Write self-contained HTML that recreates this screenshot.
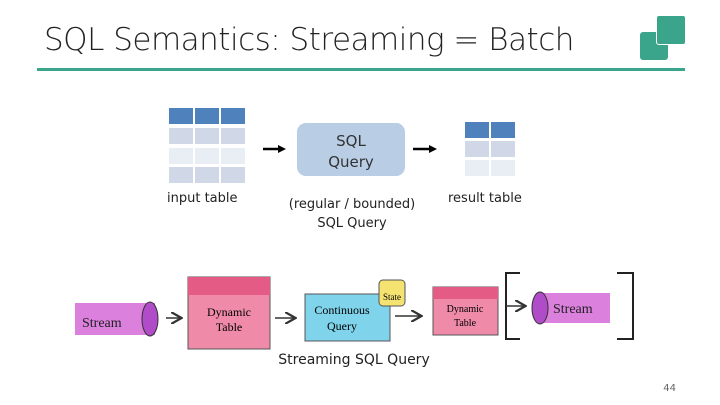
<!DOCTYPE html><html><head><style>
body{margin:0;width:720px;height:405px;background:#fff;position:relative;overflow:hidden;font-family:"DejaVu Sans","Liberation Sans",sans-serif;}
.a{position:absolute}
</style></head><body>
<div class="a" style="left:44px;top:22px;font-size:31px;color:#222;letter-spacing:-0.5px;font-weight:300">SQL Semantics: Streaming = Batch</div>
<div class="a" style="left:37px;top:68px;width:648px;height:3px;background:#3aa58a"></div>
<div class="a" style="left:640px;top:32px;width:28px;height:28px;background:#3aa58a;border-radius:3px"></div>
<div class="a" style="left:656px;top:15px;width:28px;height:28px;background:#3aa58a;border-radius:3px;border:1px solid #fff"></div>
<svg class="a" style="left:0;top:0" width="720" height="405">
<defs><marker id="m" markerWidth="8" markerHeight="8" refX="6" refY="4" orient="auto"><path d="M0,0 L7,4 L0,8" fill="none" stroke="#333" stroke-width="1.5"/></marker></defs>
<g>
<rect x="169" y="108" width="24" height="16" fill="#4f81bd"/><rect x="195" y="108" width="24" height="16" fill="#4f81bd"/><rect x="221" y="108" width="24" height="16" fill="#4f81bd"/>
<rect x="169" y="128" width="24" height="16" fill="#d0d8e8"/><rect x="195" y="128" width="24" height="16" fill="#d0d8e8"/><rect x="221" y="128" width="24" height="16" fill="#d0d8e8"/>
<rect x="169" y="148" width="24" height="16" fill="#e9edf4"/><rect x="195" y="148" width="24" height="16" fill="#e9edf4"/><rect x="221" y="148" width="24" height="16" fill="#e9edf4"/>
<rect x="169" y="167" width="24" height="16" fill="#d0d8e8"/><rect x="195" y="167" width="24" height="16" fill="#d0d8e8"/><rect x="221" y="167" width="24" height="16" fill="#d0d8e8"/>
<rect x="465" y="122" width="24" height="16" fill="#4f81bd"/><rect x="491" y="122" width="24" height="16" fill="#4f81bd"/>
<rect x="465" y="141" width="24" height="16" fill="#d0d8e8"/><rect x="491" y="141" width="24" height="16" fill="#d0d8e8"/>
<rect x="465" y="160" width="24" height="16" fill="#e9edf4"/><rect x="491" y="160" width="24" height="16" fill="#e9edf4"/>
<rect x="297" y="123" width="108" height="53" rx="9" fill="#b9cde5"/>
<line x1="263" y1="149" x2="280" y2="149" stroke="#000" stroke-width="2.5"/><polygon points="278,145 286,149 278,153"/>
<line x1="413" y1="149" x2="431" y2="149" stroke="#000" stroke-width="2.5"/><polygon points="429,145 437,149 429,153"/>
</g>
<text x="351" y="146" font-size="15" text-anchor="middle" fill="#333">SQL</text>
<text x="351" y="167" font-size="15" text-anchor="middle" fill="#333">Query</text>
<text x="167" y="202" font-size="13" fill="#222">input table</text>
<text x="448" y="202" font-size="13" fill="#222">result table</text>
<text x="352" y="208" font-size="13" text-anchor="middle" fill="#222">(regular / bounded)</text>
<text x="352" y="227" font-size="13" text-anchor="middle" fill="#222">SQL Query</text>
<rect x="75" y="303" width="80" height="32" fill="#d66ad8" opacity=".85"/>
<ellipse cx="150" cy="319" rx="8" ry="17" fill="#b04cc8" stroke="#333"/>
<text x="82" y="327" font-size="14" fill="#222" font-family="Liberation Serif">Stream</text>
<line x1="166" y1="318" x2="180" y2="318" stroke="#333" stroke-width="1.5" marker-end="url(#m)"/>
<rect x="188" y="277" width="82" height="72" fill="#ef8aa8" stroke="#555"/>
<rect x="188" y="277" width="82" height="18" fill="#e45b86"/>
<text x="229" y="316" font-size="12" text-anchor="middle" font-family="Liberation Serif">Dynamic</text>
<text x="229" y="331" font-size="12" text-anchor="middle" font-family="Liberation Serif">Table</text>
<line x1="275" y1="318" x2="294" y2="318" stroke="#333" stroke-width="1.5" marker-end="url(#m)"/>
<rect x="305" y="294" width="85" height="47" fill="#7fd3ea" stroke="#555"/>
<text x="342" y="314" font-size="12" text-anchor="middle" font-family="Liberation Serif">Continuous</text>
<text x="342" y="330" font-size="12" text-anchor="middle" font-family="Liberation Serif">Query</text>
<rect x="379" y="280" width="26" height="26" rx="4" fill="#f4e370" stroke="#555"/>
<text x="392" y="300" font-size="9" text-anchor="middle" font-family="Liberation Serif">State</text>
<line x1="395" y1="316" x2="420" y2="316" stroke="#333" stroke-width="1.5" marker-end="url(#m)"/>
<rect x="433" y="287" width="65" height="48" fill="#ef8aa8" stroke="#555"/>
<rect x="433" y="287" width="65" height="12" fill="#e45b86"/>
<text x="465" y="312" font-size="10" text-anchor="middle" font-family="Liberation Serif">Dynamic</text>
<text x="465" y="326" font-size="10" text-anchor="middle" font-family="Liberation Serif">Table</text>
<path d="M520,273 H506 V339 H520 M617,273 H633 V339 H617" fill="none" stroke="#222" stroke-width="2"/>
<line x1="506" y1="306" x2="524" y2="306" stroke="#333" stroke-width="1.5" marker-end="url(#m)"/>
<rect x="540" y="293" width="70" height="30" fill="#d66ad8" opacity=".85"/>
<ellipse cx="540" cy="308" rx="8" ry="16" fill="#b04cc8" stroke="#333"/>
<text x="553" y="313" font-size="14" fill="#222" font-family="Liberation Serif">Stream</text>
<text x="354" y="364" font-size="14" text-anchor="middle" fill="#222">Streaming SQL Query</text>
<text x="676" y="391" font-size="10" text-anchor="end" fill="#666">44</text>
</svg>
</body></html>
